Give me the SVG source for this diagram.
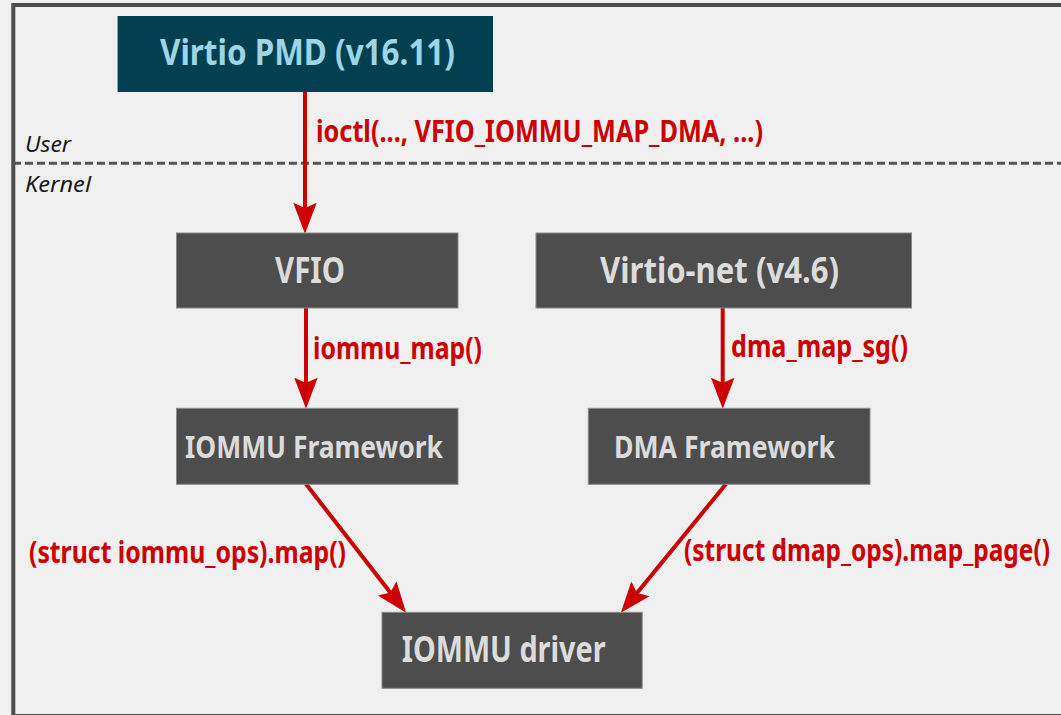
<svg xmlns="http://www.w3.org/2000/svg" width="1061" height="715" viewBox="0 0 1061 715">
<defs>
<style>
.box{fill:#4d4d4d;stroke:#8a8a8a;stroke-width:1}
.lbl{font-family:"Noto Sans","Liberation Sans",sans-serif;font-weight:bold;fill:#dcdcdc}
.red{font-family:"Noto Sans","Liberation Sans",sans-serif;font-weight:bold;fill:#cc0000;font-size:31px}
.zone{font-family:"Noto Sans","Liberation Sans",sans-serif;font-style:italic;fill:#1a1a1a;font-size:21px}
.edge{stroke:#cc0000;stroke-width:4;fill:none;marker-end:url(#ah)}
</style>
<marker id="ah" markerUnits="userSpaceOnUse" markerWidth="32" markerHeight="26" viewBox="0 -12 30 24" refX="19" refY="0" orient="auto">
<path d="M0,-11 L29,0 L0,11 L5,0 z" fill="#cc0000"/>
</marker>
</defs>
<rect x="0" y="0" width="1061" height="715" fill="#f0f0f0"/>
<rect x="13.3" y="5" width="1060" height="711" fill="none" stroke="#4d4d4d" stroke-width="4"/>
<line x1="13" y1="163.3" x2="1061" y2="163.3" stroke="#555555" stroke-width="3" stroke-dasharray="8,4"/>
<text class="zone" x="25" y="152" textLength="46" lengthAdjust="spacingAndGlyphs">User</text>
<text class="zone" x="25" y="192" textLength="66" lengthAdjust="spacingAndGlyphs">Kernel</text>

<g id="connectors">
<path class="edge" d="M305,92 L305,223"/>
<path class="edge" d="M306,308 L306,398"/>
<path class="edge" d="M722.7,308 L722.7,398"/>
<path class="edge" d="M306,484 L399.6,604.4"/>
<path class="edge" d="M726,484 L627.6,604.6"/>
<text class="red" x="316" y="142" textLength="447" lengthAdjust="spacingAndGlyphs">ioctl(..., VFIO_IOMMU_MAP_DMA, ...)</text>
<text class="red" x="313" y="359" textLength="169" lengthAdjust="spacingAndGlyphs">iommu_map()</text>
<text class="red" x="731" y="357" textLength="177" lengthAdjust="spacingAndGlyphs">dma_map_sg()</text>
<text class="red" x="29" y="563" textLength="317" lengthAdjust="spacingAndGlyphs">(struct iommu_ops).map()</text>
<text class="red" x="684" y="561" textLength="366" lengthAdjust="spacingAndGlyphs">(struct dmap_ops).map_page()</text>
</g>

<g id="virtio-pmd">
<rect x="117.6" y="16" width="375.4" height="76" fill="#023f51"/>
<text x="160" y="65" font-family="Noto Sans, Liberation Sans, sans-serif" font-weight="bold" font-size="36" fill="#9dd5e4" textLength="295" lengthAdjust="spacingAndGlyphs">Virtio PMD (v16.11)</text>
</g>
<g id="vfio">
<rect class="box" x="176.5" y="233" width="281.5" height="75"/>
<text class="lbl" x="275" y="283" font-size="35" textLength="70" lengthAdjust="spacingAndGlyphs">VFIO</text>
</g>
<g id="virtio-net">
<rect class="box" x="536" y="233" width="375.5" height="75"/>
<text class="lbl" x="600" y="283" font-size="35" textLength="239" lengthAdjust="spacingAndGlyphs">Virtio-net (v4.6)</text>
</g>
<g id="iommu-framework">
<rect class="box" x="176.5" y="408.3" width="281.5" height="76"/>
<text class="lbl" x="185" y="458" font-size="30" textLength="258" lengthAdjust="spacingAndGlyphs">IOMMU Framework</text>
</g>
<g id="dma-framework">
<rect class="box" x="588.3" y="408.3" width="281.7" height="76"/>
<text class="lbl" x="614" y="458" font-size="30" textLength="221" lengthAdjust="spacingAndGlyphs">DMA Framework</text>
</g>
<g id="iommu-driver">
<rect class="box" x="382" y="612.3" width="260.2" height="76"/>
<text class="lbl" x="401.7" y="661.7" font-size="35" textLength="204" lengthAdjust="spacingAndGlyphs">IOMMU driver</text>
</g>
</svg>
